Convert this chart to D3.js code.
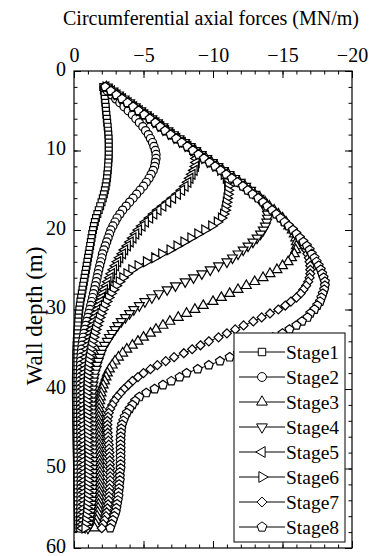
<!DOCTYPE html>
<html>
<head>
<meta charset="utf-8">
<script src="https://cdn.jsdelivr.net/npm/d3@7"></script>
<style>
  body { margin: 0; background: #fff; }
  svg { display: block; }
  svg text { font-family: "Liberation Serif", Tinos, "Times New Roman", Times, "DejaVu Serif", serif; fill: #000; }
</style>
</head>
<body>
<svg id="chart" width="374" height="556"></svg>
<script>
// Wall depth (m) of each computed point
const depths = [
  2, 2.5, 3, 3.5, 4, 4.5, 5, 5.5, 6, 6.5,
  7, 7.5, 8, 8.5, 9, 9.5, 10, 10.5, 11, 11.5,
  12, 12.5, 13, 13.5, 14, 14.5, 15, 15.5, 16, 16.5,
  17, 17.5, 18, 18.5, 19, 19.5, 20, 20.5, 21, 21.5,
  22, 22.5, 23, 23.5, 24, 24.5, 25, 25.5, 26, 26.5,
  27, 27.5, 28, 28.5, 29, 29.5, 30, 30.5, 31, 31.5,
  32, 32.5, 33, 33.5, 34, 34.5, 35, 35.5, 36, 36.5,
  37, 37.5, 38, 38.5, 39, 39.5, 40, 40.5, 41, 41.5,
  42, 42.5, 43, 43.5, 44, 44.5, 45, 45.5, 46, 46.5,
  47, 47.5, 48, 48.5, 49, 49.5, 50, 50.5, 51, 51.5,
  52, 52.5, 53, 53.5, 54, 54.5, 55, 55.5, 56, 56.5,
  57, 57.5
];

// Circumferential axial force (MN/m) per excavation stage
const stage1 = [
  -2.10, -2.15, -2.20, -2.22, -2.25, -2.28, -2.30, -2.33, -2.36, -2.39,
  -2.42, -2.45, -2.47, -2.49, -2.50, -2.50, -2.50, -2.50, -2.49, -2.47,
  -2.45, -2.43, -2.40, -2.37, -2.33, -2.28, -2.22, -2.15, -2.07, -1.98,
  -1.88, -1.78, -1.68, -1.58, -1.50, -1.43, -1.37, -1.31, -1.26, -1.21,
  -1.16, -1.11, -1.06, -1.01, -0.96, -0.91, -0.86, -0.81, -0.76, -0.71,
  -0.66, -0.61, -0.56, -0.51, -0.46, -0.42, -0.38, -0.35, -0.32, -0.30,
  -0.28, -0.26, -0.24, -0.22, -0.20, -0.19, -0.18, -0.17, -0.17, -0.16,
  -0.16, -0.15, -0.15, -0.14, -0.14, -0.14, -0.14, -0.14, -0.14, -0.15,
  -0.15, -0.15, -0.15, -0.16, -0.16, -0.17, -0.17, -0.18, -0.18, -0.19,
  -0.19, -0.20, -0.20, -0.21, -0.21, -0.22, -0.22, -0.23, -0.23, -0.24,
  -0.24, -0.25, -0.25, -0.26, -0.26, -0.27, -0.27, -0.28, -0.28, -0.29,
  -0.29, -0.30
];
const stage2 = [
  -2.20, -2.40, -2.70, -3.00, -3.30, -3.60, -3.90, -4.20, -4.45, -4.70,
  -4.95, -5.15, -5.35, -5.50, -5.65, -5.75, -5.85, -5.90, -5.90, -5.85,
  -5.80, -5.70, -5.55, -5.40, -5.20, -5.00, -4.75, -4.50, -4.25, -4.00,
  -3.75, -3.50, -3.30, -3.10, -2.95, -2.80, -2.65, -2.55, -2.45, -2.35,
  -2.25, -2.15, -2.05, -2.00, -1.92, -1.85, -1.78, -1.72, -1.66, -1.60,
  -1.53, -1.47, -1.40, -1.34, -1.27, -1.20, -1.13, -1.06, -0.99, -0.92,
  -0.85, -0.78, -0.72, -0.67, -0.62, -0.58, -0.55, -0.52, -0.50, -0.48,
  -0.47, -0.46, -0.45, -0.45, -0.44, -0.44, -0.44, -0.44, -0.44, -0.45,
  -0.45, -0.45, -0.46, -0.46, -0.47, -0.47, -0.48, -0.48, -0.49, -0.49,
  -0.50, -0.50, -0.50, -0.51, -0.51, -0.51, -0.51, -0.51, -0.51, -0.51,
  -0.51, -0.50, -0.50, -0.50, -0.49, -0.49, -0.48, -0.48, -0.47, -0.46,
  -0.45, -0.44
];
const stage3 = [
  -2.35, -2.75, -3.15, -3.55, -3.95, -4.35, -4.75, -5.15, -5.55, -5.95,
  -6.35, -6.70, -7.10, -7.50, -7.90, -8.30, -8.70, -9.10, -9.50, -9.90,
  -10.30, -10.70, -11.10, -11.50, -11.90, -12.30, -12.65, -13.00, -13.40, -13.75,
  -14.05, -14.40, -14.70, -15.00, -15.25, -15.45, -15.70, -15.85, -15.95, -16.00,
  -16.00, -15.95, -15.85, -15.65, -15.40, -15.00, -14.60, -14.10, -13.60, -13.00,
  -12.40, -11.80, -11.20, -10.60, -10.00, -9.30, -8.70, -8.10, -7.50, -6.90,
  -6.40, -5.90, -5.50, -5.00, -4.60, -4.20, -3.80, -3.50, -3.20, -2.95,
  -2.75, -2.55, -2.40, -2.30, -2.20, -2.10, -2.00, -1.95, -1.90, -1.85,
  -1.82, -1.80, -1.78, -1.77, -1.76, -1.76, -1.76, -1.77, -1.78, -1.79,
  -1.80, -1.81, -1.82, -1.83, -1.84, -1.85, -1.85, -1.85, -1.85, -1.85,
  -1.84, -1.83, -1.82, -1.80, -1.78, -1.76, -1.73, -1.70, -1.66, -1.61,
  -1.55, -1.48
];
const stage4 = [
  -2.40, -2.80, -3.20, -3.60, -4.00, -4.40, -4.80, -5.20, -5.60, -6.00,
  -6.40, -6.75, -7.15, -7.55, -7.95, -8.35, -8.75, -9.15, -9.55, -9.95,
  -10.35, -10.75, -11.15, -11.55, -11.95, -12.35, -12.70, -13.00, -13.30, -13.55,
  -13.72, -13.85, -13.92, -13.92, -13.87, -13.77, -13.62, -13.42, -13.17, -12.87,
  -12.52, -12.17, -11.80, -11.40, -11.00, -10.40, -9.80, -9.20, -8.60, -8.00,
  -7.30, -6.70, -6.10, -5.60, -5.10, -4.70, -4.30, -4.00, -3.70, -3.40,
  -3.15, -2.95, -2.75, -2.55, -2.40, -2.20, -2.05, -1.95, -1.85, -1.75,
  -1.65, -1.60, -1.50, -1.45, -1.40, -1.36, -1.33, -1.31, -1.30, -1.29,
  -1.29, -1.29, -1.29, -1.30, -1.30, -1.31, -1.31, -1.32, -1.32, -1.33,
  -1.33, -1.34, -1.34, -1.35, -1.35, -1.35, -1.35, -1.35, -1.35, -1.34,
  -1.34, -1.33, -1.32, -1.30, -1.28, -1.26, -1.23, -1.20, -1.16, -1.12,
  -1.07, -1.00
];
const stage5 = [
  -2.30, -2.70, -3.10, -3.50, -3.90, -4.30, -4.70, -5.10, -5.50, -5.90,
  -6.25, -6.60, -7.00, -7.40, -7.80, -8.20, -8.55, -8.75, -8.80, -8.80,
  -8.75, -8.65, -8.50, -8.35, -8.20, -8.00, -7.75, -7.45, -7.10, -6.75,
  -6.40, -6.05, -5.75, -5.45, -5.15, -4.90, -4.65, -4.45, -4.25, -4.05,
  -3.85, -3.65, -3.50, -3.30, -3.15, -3.00, -2.85, -2.70, -2.60, -2.45,
  -2.35, -2.20, -2.10, -2.00, -1.90, -1.80, -1.70, -1.60, -1.50, -1.42,
  -1.35, -1.27, -1.20, -1.13, -1.07, -1.00, -0.95, -0.90, -0.86, -0.82,
  -0.79, -0.76, -0.74, -0.72, -0.70, -0.69, -0.68, -0.68, -0.68, -0.68,
  -0.68, -0.69, -0.69, -0.70, -0.70, -0.71, -0.72, -0.72, -0.73, -0.73,
  -0.74, -0.74, -0.75, -0.75, -0.75, -0.76, -0.76, -0.76, -0.76, -0.76,
  -0.75, -0.75, -0.74, -0.74, -0.73, -0.72, -0.71, -0.70, -0.68, -0.66,
  -0.63, -0.60
];
const stage6 = [
  -2.30, -2.70, -3.10, -3.50, -3.90, -4.30, -4.70, -5.10, -5.50, -5.90,
  -6.25, -6.60, -7.00, -7.40, -7.80, -8.20, -8.60, -9.00, -9.40, -9.80,
  -10.20, -10.55, -10.80, -10.95, -11.05, -11.08, -11.08, -11.05, -11.00, -10.95,
  -10.90, -10.85, -10.75, -10.60, -10.30, -9.90, -9.40, -8.90, -8.40, -7.90,
  -7.40, -6.90, -6.30, -5.80, -5.20, -4.60, -4.15, -3.80, -3.50, -3.25,
  -3.02, -2.82, -2.64, -2.47, -2.32, -2.18, -2.05, -1.93, -1.82, -1.72,
  -1.63, -1.54, -1.46, -1.39, -1.32, -1.26, -1.20, -1.15, -1.10, -1.06,
  -1.03, -1.00, -0.98, -0.96, -0.95, -0.94, -0.93, -0.93, -0.93, -0.93,
  -0.93, -0.94, -0.94, -0.95, -0.95, -0.96, -0.96, -0.97, -0.97, -0.98,
  -0.98, -0.99, -0.99, -1.00, -1.00, -1.00, -1.00, -1.00, -1.00, -1.00,
  -0.99, -0.99, -0.98, -0.97, -0.96, -0.95, -0.93, -0.91, -0.88, -0.85,
  -0.82, -0.78
];
const stage7 = [
  -2.25, -2.65, -3.05, -3.45, -3.85, -4.25, -4.65, -5.05, -5.45, -5.85,
  -6.20, -6.55, -6.95, -7.35, -7.75, -8.15, -8.55, -8.95, -9.35, -9.75,
  -10.15, -10.55, -10.95, -11.35, -11.75, -12.15, -12.50, -12.85, -13.25, -13.60,
  -13.90, -14.25, -14.55, -14.85, -15.15, -15.45, -15.75, -15.95, -16.20, -16.40,
  -16.55, -16.70, -16.80, -16.90, -16.95, -17.00, -17.00, -17.00, -16.95, -16.85,
  -16.70, -16.50, -16.30, -16.00, -15.60, -15.20, -14.70, -14.10, -13.50, -12.90,
  -12.20, -11.60, -11.00, -10.40, -9.70, -9.10, -8.50, -7.90, -7.20, -6.60,
  -6.00, -5.50, -5.00, -4.60, -4.20, -3.90, -3.60, -3.35, -3.10, -2.90,
  -2.75, -2.60, -2.50, -2.45, -2.40, -2.40, -2.40, -2.42, -2.45, -2.47,
  -2.50, -2.52, -2.55, -2.55, -2.57, -2.58, -2.60, -2.60, -2.60, -2.60,
  -2.58, -2.56, -2.55, -2.52, -2.50, -2.45, -2.40, -2.35, -2.30, -2.20,
  -2.10, -2.00
];
const stage8 = [
  -2.25, -2.65, -3.05, -3.45, -3.85, -4.25, -4.65, -5.05, -5.45, -5.85,
  -6.20, -6.55, -6.95, -7.35, -7.75, -8.15, -8.55, -8.95, -9.35, -9.75,
  -10.15, -10.55, -10.95, -11.35, -11.75, -12.15, -12.50, -12.85, -13.25, -13.60,
  -13.90, -14.25, -14.55, -14.85, -15.15, -15.45, -15.75, -16.00, -16.25, -16.50,
  -16.75, -16.95, -17.10, -17.30, -17.45, -17.60, -17.75, -17.85, -17.95, -18.05,
  -18.05, -18.00, -17.90, -17.80, -17.70, -17.50, -17.30, -17.00, -16.80, -16.40,
  -16.00, -15.50, -15.00, -14.30, -13.60, -12.90, -12.30, -11.80, -11.20, -10.50,
  -9.70, -8.90, -8.10, -7.60, -7.00, -6.40, -5.80, -5.20, -4.70, -4.40,
  -4.20, -4.00, -3.80, -3.65, -3.55, -3.45, -3.40, -3.38, -3.36, -3.35,
  -3.35, -3.35, -3.35, -3.35, -3.35, -3.35, -3.35, -3.30, -3.30, -3.30,
  -3.25, -3.25, -3.20, -3.20, -3.15, -3.10, -3.05, -3.00, -2.90, -2.80,
  -2.70, -2.60
];

const stageNames = ["Stage1", "Stage2", "Stage3", "Stage4", "Stage5", "Stage6", "Stage7", "Stage8"];
const stageValues = [stage1, stage2, stage3, stage4, stage5, stage6, stage7, stage8];

const forceTicks = [0, -5, -10, -15, -20];
const forceMinorTicks = d3.range(0, -21, -1);
const depthTicks = [0, 10, 20, 30, 40, 50, 60];
const depthMinorTicks = d3.range(0, 61, 2);

const SERIF = '"Liberation Serif", Tinos, "Times New Roman", Times, "DejaVu Serif", serif';

// ---- layout ----
const svg = d3.select("#chart");
const plot = { left: 74, right: 352, top: 71, bottom: 548 };

const x = d3.scaleLinear().domain([0, -20]).range([plot.left, plot.right]);
const y = d3.scaleLinear().domain([0, 60]).range([plot.top, plot.bottom]);

// pentagon marker
const symbolPentagon = {
  draw(ctx, size) {
    const r = Math.sqrt(size / 2.378);
    for (let i = 0; i < 5; i++) {
      const a = -Math.PI / 2 + i * 2 * Math.PI / 5;
      const px = r * Math.cos(a), py = r * Math.sin(a);
      if (i === 0) ctx.moveTo(px, py); else ctx.lineTo(px, py);
    }
    ctx.closePath();
  }
};

// marker type, size and rotation per stage
const markers = [
  { type: d3.symbolSquare, size: 46, rot: 0 },
  { type: d3.symbolCircle, size: 52, rot: 0 },
  { type: d3.symbolTriangle, size: 42, rot: 0 },
  { type: d3.symbolTriangle, size: 42, rot: 180 },
  { type: d3.symbolTriangle, size: 42, rot: -90 },
  { type: d3.symbolTriangle, size: 42, rot: 90 },
  { type: d3.symbolDiamond2, size: 52, rot: 0 },
  { type: symbolPentagon, size: 52, rot: 0 }
];

// ---- axes (ticks point inward on all four sides) ----
const axes = svg.append("g").attr("class", "axes");

axes.append("g")
  .attr("transform", `translate(0,${plot.top})`)
  .call(d3.axisTop(x).tickValues(forceMinorTicks).tickSize(-3.5).tickFormat(""));
axes.append("g")
  .attr("transform", `translate(0,${plot.top})`)
  .call(d3.axisTop(x).tickValues(forceTicks).tickSize(-7).tickPadding(9).tickFormat(d3.format("d")));
axes.append("g")
  .attr("transform", `translate(0,${plot.bottom})`)
  .call(d3.axisBottom(x).tickValues(forceMinorTicks).tickSize(-3.5).tickFormat(""));
axes.append("g")
  .attr("transform", `translate(0,${plot.bottom})`)
  .call(d3.axisBottom(x).tickValues(forceTicks).tickSize(-7).tickFormat(""));

axes.append("g")
  .attr("transform", `translate(${plot.left},0)`)
  .call(d3.axisLeft(y).tickValues(depthMinorTicks).tickSize(-3.5).tickFormat(""));
axes.append("g")
  .attr("class", "depth-labels")
  .attr("transform", `translate(${plot.left},0)`)
  .call(d3.axisLeft(y).tickValues(depthTicks).tickSize(-7).tickPadding(8).tickFormat(d3.format("d")));
axes.append("g")
  .attr("transform", `translate(${plot.right},0)`)
  .call(d3.axisRight(y).tickValues(depthMinorTicks).tickSize(-3.5).tickFormat(""));
axes.append("g")
  .attr("transform", `translate(${plot.right},0)`)
  .call(d3.axisRight(y).tickValues(depthTicks).tickSize(-7).tickFormat(""));

axes.selectAll(".domain").remove();
axes.selectAll("g").attr("font-family", SERIF);
axes.selectAll("line").attr("stroke", "#000").attr("stroke-width", 1);
axes.selectAll("text")
  .attr("font-family", SERIF)
  .attr("font-size", 20)
  .attr("fill", "#000");
axes.select(".depth-labels").selectAll("text").attr("dy", "0.2em");

// ---- series ----
const line = d3.line()
  .x(d => x(d.f))
  .y(d => y(d.z));

const seriesG = svg.append("g").attr("class", "series");
stageValues.forEach((vals, i) => {
  const pts = depths.map((z, k) => ({ z, f: vals[k] }));
  const g = seriesG.append("g");
  g.append("path")
    .attr("d", line(pts))
    .attr("fill", "none")
    .attr("stroke", "#000")
    .attr("stroke-width", 1);
  const sym = d3.symbol().type(markers[i].type).size(markers[i].size);
  g.selectAll("path.mk")
    .data(pts)
    .join("path")
    .attr("class", "mk")
    .attr("d", sym)
    .attr("transform", d => `translate(${x(d.f)},${y(d.z)}) rotate(${markers[i].rot})`)
    .attr("fill", "#fff")
    .attr("stroke", "#000")
    .attr("stroke-width", 1.2);
});

// ---- frame ----
svg.append("rect")
  .attr("x", plot.left).attr("y", plot.top)
  .attr("width", plot.right - plot.left)
  .attr("height", plot.bottom - plot.top)
  .attr("fill", "none")
  .attr("stroke", "#000")
  .attr("stroke-width", 1.2);

// ---- titles ----
svg.append("text")
  .attr("x", 211).attr("y", 25)
  .attr("text-anchor", "middle")
  .attr("font-family", SERIF)
  .attr("font-size", 20)
  .text("Circumferential axial forces (MN/m)");

svg.append("text")
  .attr("transform", "translate(42,316) rotate(-90)")
  .attr("text-anchor", "middle")
  .attr("font-family", SERIF)
  .attr("font-size", 23)
  .text("Wall depth (m)");

// ---- legend ----
const legend = svg.append("g").attr("class", "legend");
legend.append("rect")
  .attr("x", 234).attr("y", 333)
  .attr("width", 111).attr("height", 209)
  .attr("fill", "#fff")
  .attr("stroke", "#000")
  .attr("stroke-width", 1);

stageNames.forEach((name, i) => {
  const ly = 352 + i * 25;
  const row = legend.append("g");
  row.append("line")
    .attr("x1", 239).attr("x2", 285)
    .attr("y1", ly).attr("y2", ly)
    .attr("stroke", "#000").attr("stroke-width", 1);
  row.append("path")
    .attr("d", d3.symbol().type(markers[i].type).size(markers[i].size * 1.2)())
    .attr("transform", `translate(262,${ly}) rotate(${markers[i].rot})`)
    .attr("fill", "#fff").attr("stroke", "#000").attr("stroke-width", 1);
  row.append("text")
    .attr("x", 286).attr("y", ly + 6.5)
    .attr("font-family", SERIF)
    .attr("font-size", 19.5)
    .text(name);
});
</script>
</body>
</html>
